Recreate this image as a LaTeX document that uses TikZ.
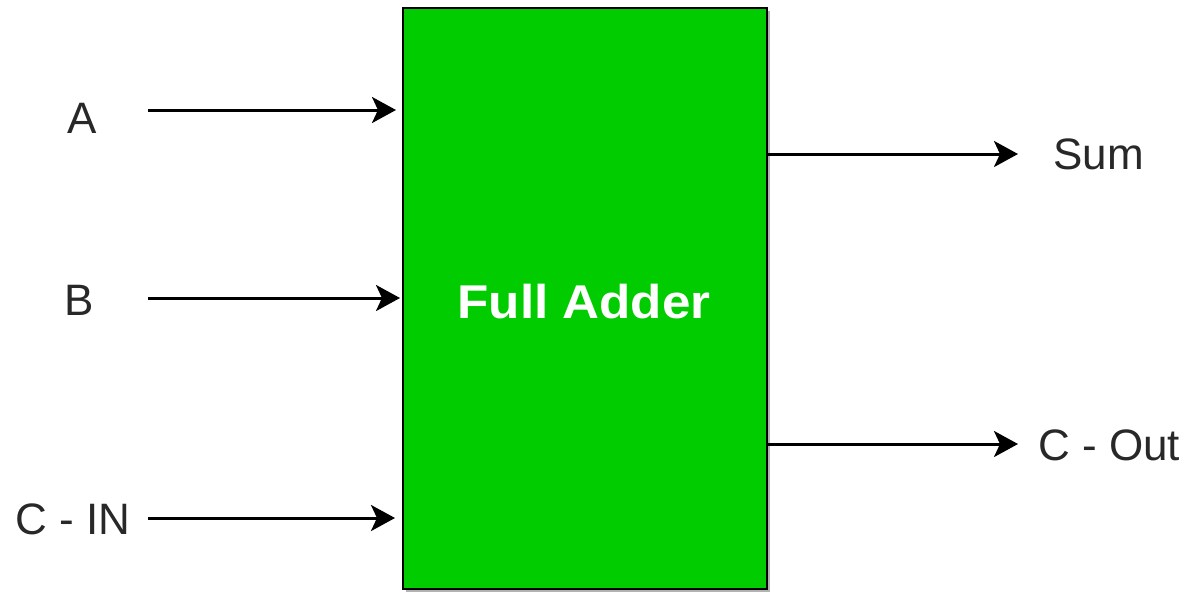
\documentclass[tikz,border=0pt]{standalone}
\usepackage{fontspec}
\setmainfont{Liberation Sans}
\newfontfamily\blockfont[FakeStretch=1.08]{Liberation Sans}
\usetikzlibrary{arrows.meta,shadows}
\definecolor{addergreen}{RGB}{0,204,0}
\definecolor{labelgray}{RGB}{40,40,40}
\tikzstyle{signal}=[line width=1.5pt,-{Stealth[length=12pt,width=13pt,inset=3pt]}]
\tikzstyle{pin}=[font=\fontsize{22}{26}\selectfont,text=labelgray,inner sep=0pt]

\begin{document}
\begin{tikzpicture}[x=0.5pt, y=-0.5pt]
	\useasboundingbox (0,0) rectangle (1192,596);
	%block
	\node[draw=black,line width=1pt,fill=addergreen,minimum width=182pt,minimum height=290.5pt,
		drop shadow={shadow xshift=1.5pt,shadow yshift=-1.5pt,fill=gray,opacity=0.6}] (fa) at (585,298.5) {};
	\node[text=white,font=\blockfont\bfseries\fontsize{23.7}{27}\selectfont,inner sep=0pt] (fa text) at (584,302) {Full Adder};
	%inputs
	\node[pin] (a) at (82.5,118) {A};
	\node[pin] (b) at (79,300) {B};
	\node[pin] (cin) at (73,519) {C - IN};
	\coordinate (a start) at (148,110);
	\coordinate (b start) at (148,298);
	\coordinate (cin start) at (148,518);
	\draw[signal,shorten >=3pt] (a start) -- (a start -| fa.west);
	\draw[signal,shorten >=1pt] (b start) -- (b start -| fa.west);
	\draw[signal,shorten >=3.5pt] (cin start) -- (cin start -| fa.west);
	%outputs
	\node[pin,anchor=west] (sum) at (1053,154) {Sum};
	\node[pin,anchor=west] (cout) at (1038,445.5) {C - Out};
	\coordinate (sum end) at (1018,154);
	\coordinate (cout end) at (1018,444);
	\draw[signal] (sum end -| fa.east) -- (sum end);
	\draw[signal] (cout end -| fa.east) -- (cout end);
\end{tikzpicture}
\end{document}
